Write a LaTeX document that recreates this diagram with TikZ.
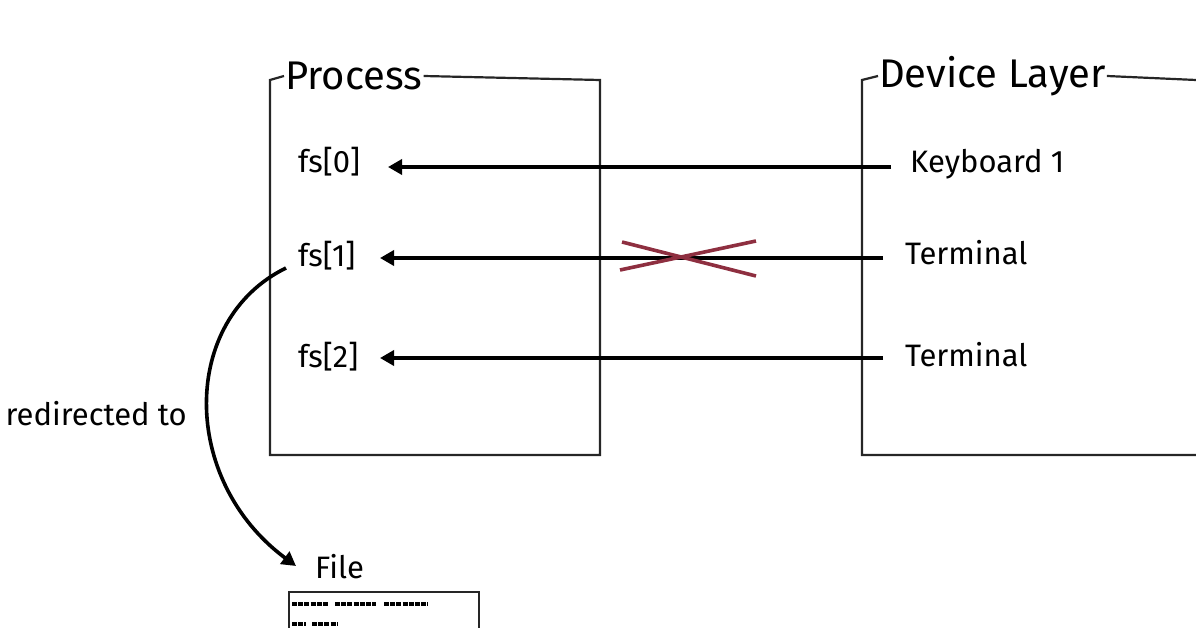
\documentclass[tikz,border=0pt]{standalone}
\usepackage{fontspec}
\setmainfont{Fira Sans}
\usetikzlibrary{arrows.meta}
\definecolor{crossred}{HTML}{8E2F40}
\begin{document}
\begin{tikzpicture}[x=1pt,y=-1pt,
  box/.style={line width=2.2pt,draw=black!85},
  lbl/.style={font=\fontsize{31}{33}\selectfont,inner sep=0pt,anchor=west},
  ttl/.style={font=\fontsize{40}{42}\selectfont,inner sep=1pt,anchor=west},
  arr/.style={line width=3.6pt,-{Triangle[length=14pt,width=15pt]}},
  sq/.style={line width=4pt,dash pattern=on 5pt off 1.2pt}]
\useasboundingbox (0,0) rectangle (1196,628);
% Process box
\node[ttl] (pt) at (284,76) {Process};
\draw[box] (pt.west) -- (270,80) -- (270,455) -- (600,455) -- (600,80) -- (pt.east);
% Device box
\node[ttl] (dt) at (878,76) {Device Layer};
\draw[box] (dt.west) -- (862,80) -- (862,455) -- (1196,455);
\draw[box] (dt.east) -- (1196,80);
% labels
\node[lbl] (f0) at (298,162) {fs[0]};
\node[lbl] (f1) at (298,256) {fs[1]};
\node[lbl] (f2) at (298,357) {fs[2]};
\node[lbl] (k1) at (910,164) {Keyboard 1};
\node[lbl] (t1) at (905,253) {Terminal};
\node[lbl] (t2) at (905,355) {Terminal};
\coordinate (k1s) at (891,167); \coordinate (f0e) at (388,167);
\coordinate (t1s) at (883,258); \coordinate (f1e) at (380,258);
\coordinate (t2s) at (883,358); \coordinate (f2e) at (380,358);
\draw[arr] (k1s) -- (f0e);
\draw[arr] (t1s) -- (f1e);
\draw[arr] (t2s) -- (f2e);
% cross
\coordinate (c1) at (622,242); \coordinate (c2) at (756,276);
\coordinate (c3) at (620,270); \coordinate (c4) at (756,241);
\draw[crossred,line width=3.6pt] (c1) -- (c2);
\draw[crossred,line width=3.6pt] (c3) -- (c4);
% redirect
\node[lbl,anchor=east] (rd) at (187,414) {redirected to};
\node[lbl] (fl) at (315,567) {File};
\coordinate (cs) at (286,268); \coordinate (ce) at (296,566);
\draw[arr] (cs) .. controls (180,320) and (180,480) .. (ce);
% file box
\draw[box] (289,592) rectangle (479,640);
\draw[sq] (292,604) -- (328,604) (335,604) -- (376,604) (384,604) -- (428,604);
\draw[sq] (292,624) -- (306,624) (312,624) -- (338,624);
\end{tikzpicture}
\end{document}
